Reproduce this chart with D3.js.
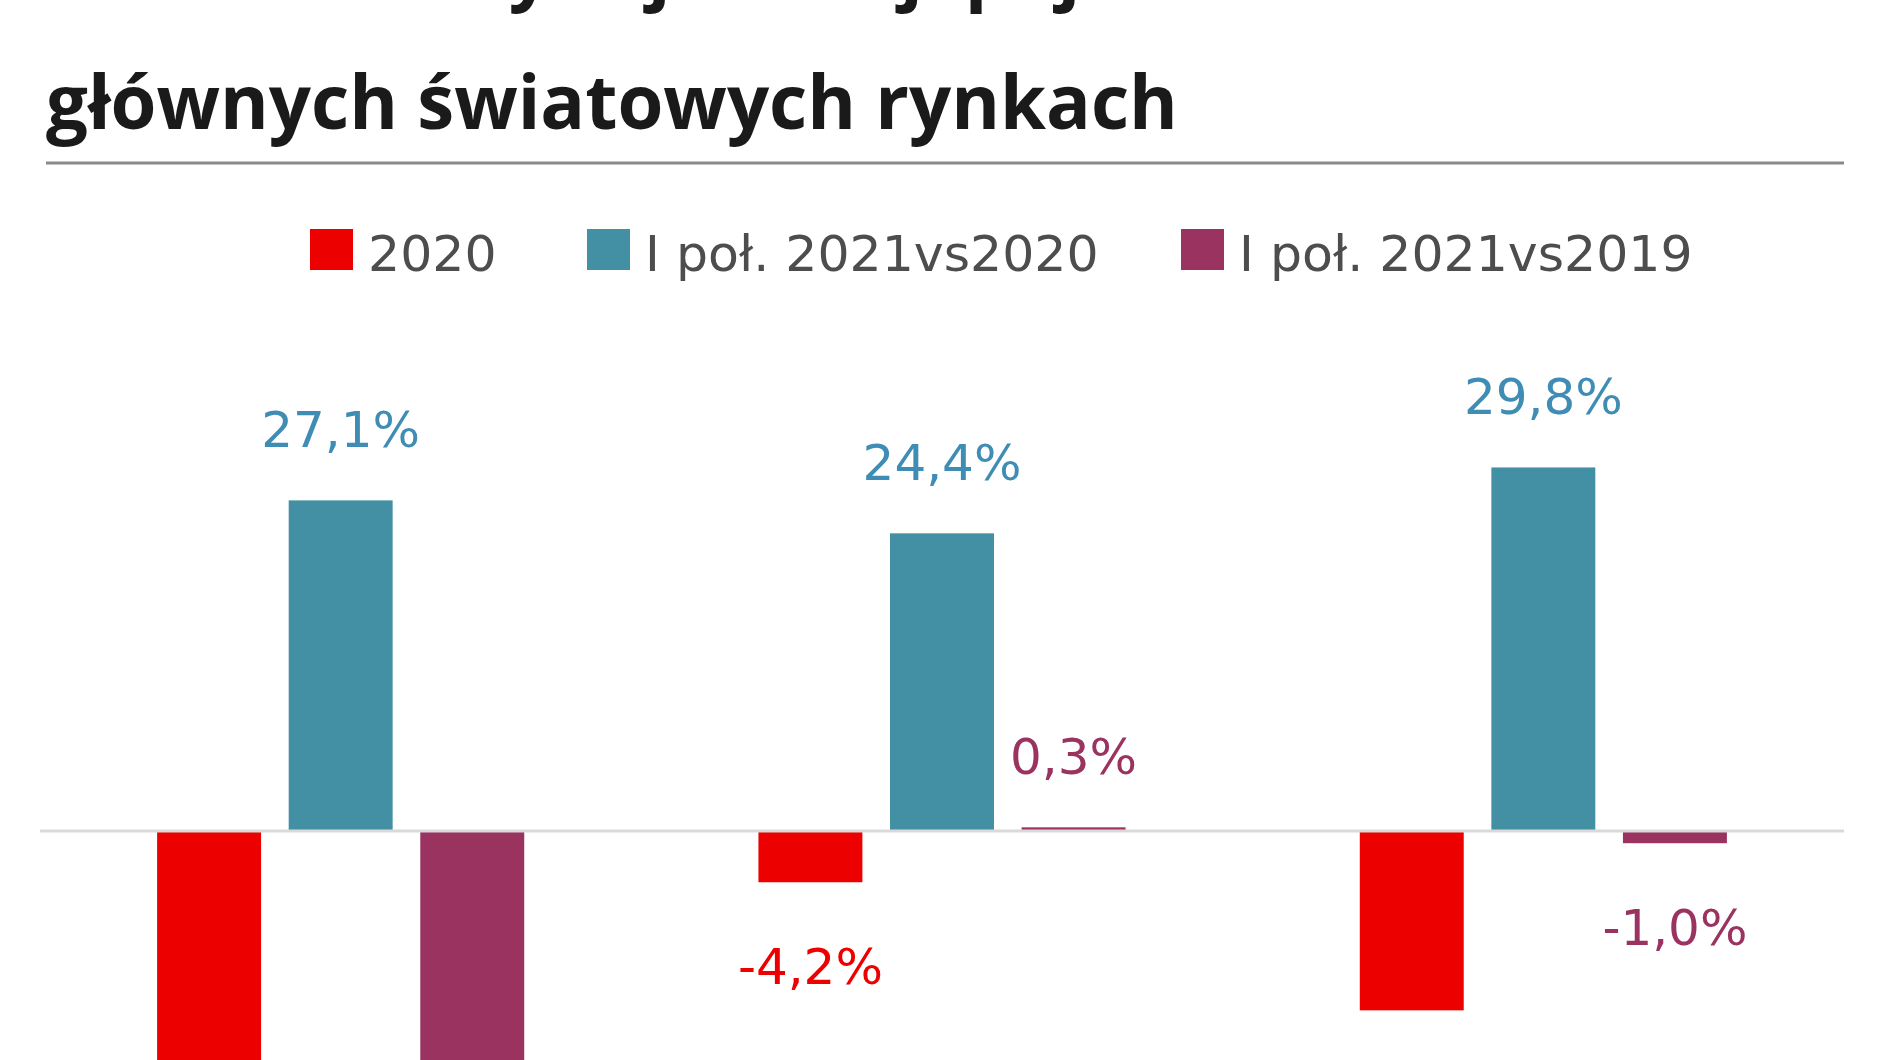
<!DOCTYPE html>
<html>
<head>
<meta charset="utf-8">
<script src="https://cdn.jsdelivr.net/npm/d3@7"></script>
<style>
  html, body { margin: 0; padding: 0; background: #fff; }
  svg { display: block; }
</style>
</head>
<body>
<svg id="chart"></svg>
<script>
// dane
const titleLines = ['Zmiana liczby rejestracji pojazdów na', 'głównych światowych rynkach']
const categories = ['Europa', 'Chiny', 'USA']
const seriesNames = ['2020', 'I poł. 2021vs2020', 'I poł. 2021vs2019']
const values2020 = [-23.7, -4.2, -14.7]
const valuesVs2020 = [27.1, 24.4, 29.8]
const valuesVs2019 = [-22.5, 0.3, -1.0]
const seriesValues = [values2020, valuesVs2020, valuesVs2019]
const barColors = ['#ec0000', '#438fa3', '#9b3361']
const labelColors = ['#ec0000', '#3f8db4', '#9b3361']

const width = 1880
const height = 1060
const svg = d3.select('#chart').attr('width', width).attr('height', height)

// tytuł (skondensowany), górna linia ucięta krawędzią
const title = svg.append('g')
titleLines.forEach((line, i) => {
  title.append('text')
    .attr('x', 0)
    .attr('y', i === 0 ? -4 : 129)
    .style('font-family', '"Open Sans", sans-serif')
    .style('font-weight', 700)
    .style('font-size', '76px')
    .style('fill', '#1a1a1a')
    .text(line)
})
const w2 = title.selectAll('text').nodes()[1].getComputedTextLength()
const sx = 1132 / w2
title.attr('transform', `translate(46,0) scale(${sx},1)`)

svg.append('line')
  .attr('x1', 46).attr('x2', 1844)
  .attr('y1', 163).attr('y2', 163)
  .style('stroke', '#8a8a8a')
  .style('stroke-width', 3)

// legenda
const legendX = [310, 587, 1181]
seriesNames.forEach((name, i) => {
  const g = svg.append('g')
  g.append('rect')
    .attr('x', legendX[i]).attr('y', 229)
    .attr('width', 43).attr('height', 41)
    .style('fill', barColors[i])
  g.append('text')
    .attr('x', legendX[i] + 58).attr('y', 271)
    .style('font-family', '"DejaVu Sans", sans-serif')
    .style('font-size', '50.5px')
    .style('fill', '#4d4d4d')
    .text(name)
})

// skale
const x0 = d3.scaleBand()
  .domain(categories)
  .range([40, 1844])

const x1 = d3.scaleBand()
  .domain(seriesNames)
  .range([0, x0.bandwidth()])
  .paddingInner(0.21)
  .paddingOuter(0.89)

const y = d3.scaleLinear()
  .domain([-20, 30])
  .range([831 + 20 * 12.2, 831 - 30 * 12.2])

const fmt = v => d3.format('.1f')(v).replace('.', ',').replace('−', '-') + '%'
const labelY = d => d.value >= 0 ? y(d.value) - 53 : y(d.value) + 102

// słupki
seriesNames.forEach((name, si) => {
  const data = categories.map((c, ci) => ({ cat: c, value: seriesValues[si][ci] }))

  svg.selectAll(`.bar-${si}`)
    .data(data)
    .enter()
    .append('rect')
    .attr('x', d => x0(d.cat) + x1(name))
    .attr('width', x1.bandwidth())
    .attr('y', d => y(Math.max(0, d.value)))
    .attr('height', d => Math.abs(y(d.value) - y(0)))
    .style('fill', barColors[si])

  // etykiety poza kadrem pomijamy
  svg.selectAll(`.label-${si}`)
    .data(data.filter(d => labelY(d) < height))
    .enter()
    .append('text')
    .attr('x', d => x0(d.cat) + x1(name) + x1.bandwidth() / 2)
    .attr('y', labelY)
    .attr('text-anchor', 'middle')
    .style('font-family', '"DejaVu Sans", sans-serif')
    .style('font-size', '50px')
    .style('fill', labelColors[si])
    .text(d => fmt(d.value))
})

// linia zera
svg.append('line')
  .attr('x1', 40).attr('x2', 1844)
  .attr('y1', y(0)).attr('y2', y(0))
  .style('stroke', '#d9d9d9')
  .style('stroke-width', 3)
</script>
</body>
</html>
